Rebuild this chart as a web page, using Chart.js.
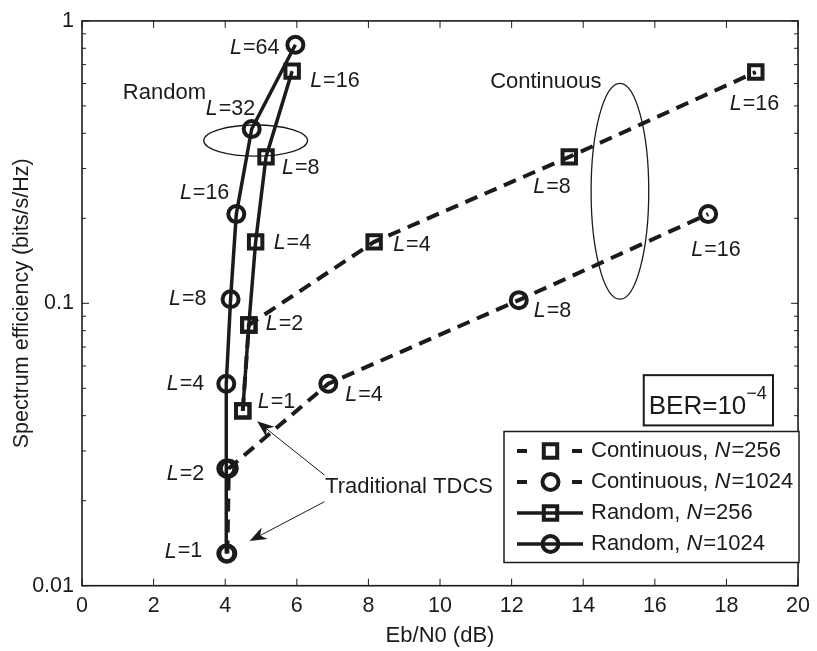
<!DOCTYPE html>
<html>
<head>
<meta charset="utf-8">
<script src="https://cdn.jsdelivr.net/npm/chart.js@4.4.0/dist/chart.umd.min.js"></script>
<style>
  html, body { margin: 0; padding: 0; background: #fff; }
  #wrap { width: 817px; height: 651px; }
</style>
</head>
<body>
<div id="wrap"><canvas id="chart" width="817" height="651"></canvas></div>
<script>
// data
const seriesNames = ["Continuous, N=256", "Continuous, N=1024", "Random, N=256", "Random, N=1024"];

const contN256X = [4.49, 4.66, 8.16, 13.61, 18.82];
const contN256Y = [0.0416, 0.0838, 0.165, 0.330, 0.659];
const contN256L = [1, 2, 4, 8, 16];

const contN1024X = [4.06, 4.1, 6.88, 12.2, 17.49];
const contN1024Y = [0.013, 0.026, 0.0519, 0.1026, 0.207];
const contN1024L = [1, 2, 4, 8, 16];

const randN256X = [4.49, 4.66, 4.85, 5.14, 5.87];
const randN256Y = [0.0416, 0.0838, 0.165, 0.33, 0.664];
const randN256L = [1, 2, 4, 8, 16];

const randN1024X = [4.03, 4.03, 4.03, 4.15, 4.31, 4.74, 5.96];
const randN1024Y = [0.013, 0.026, 0.0519, 0.1034, 0.207, 0.414, 0.823];
const randN1024L = [1, 2, 4, 8, 16, 32, 64];

const xTicks = [0, 2, 4, 6, 8, 10, 12, 14, 16, 18, 20];
const yTicks = [0.01, 0.1, 1];

// where each "L=" label sits next to its marker (pixels), null = not labelled
const labelPlace = [
  [null, null, ["left", 19, 3], ["left", -36, 30], ["left", -26, 32]],
  [null, null, ["left", 17, 11], ["left", 15, 11], ["left", -17, 36]],
  [["left", 15, -9], ["left", 17, -1], ["left", 18, 1], ["left", 16, 11], ["left", 18, 10]],
  [["right", -25, -2], ["right", -23, 6], ["right", -23, 0], ["right", -25, 0],
   ["right", -8, -21], ["left", -46, -20], ["right", -17, 3]],
];

// annotations in data coordinates
const notes = [
  { text: "Random", x: 1.14, y: 0.555 },
  { text: "Continuous", x: 11.4, y: 0.606 },
  { text: "Traditional TDCS", x: 6.79, y: 0.02245 },
];
const ellipses = [
  { x1: 3.4, x2: 6.3, y1: 0.428, y2: 0.332 },
  { x1: 14.22, x2: 15.83, y1: 0.601, y2: 0.1034 },
];
const arrows = [
  { x1: 6.77, y1: 0.02466, x2: 4.89, y2: 0.0382 },
  { x1: 6.77, y1: 0.01983, x2: 4.68, y2: 0.01439 },
];
const berBox = { x1: 15.69, x2: 19.3, y1: 0.05566, y2: 0.03695 };

// -----------------------------------------------------------------------------

const ink = "#1b1b1b";
const fam = "'Liberation Sans', Arial, Helvetica, sans-serif";

function pts(xs, ys) {
  return xs.map((x, i) => ({ x, y: ys[i] }));
}

const seriesX = [contN256X, contN1024X, randN256X, randN1024X];
const seriesY = [contN256Y, contN1024Y, randN256Y, randN1024Y];
const seriesL = [contN256L, contN1024L, randN256L, randN1024L];

const datasets = seriesNames.map((name, i) => {
  const dashed = i < 2;
  const square = i % 2 === 0;
  return {
    label: name,
    data: pts(seriesX[i], seriesY[i]),
    borderColor: ink,
    borderWidth: dashed ? 4 : 3.5,
    borderDash: dashed ? [13, 8] : [],
    pointStyle: square ? "rect" : "circle",
    pointRadius: square ? 9.5 : 8,
    pointBorderWidth: 4,
    pointBorderColor: ink,
    pointBackgroundColor: "rgba(0,0,0,0)",
    tension: 0,
  };
});

// "L=4" with italic L
function drawVar(ctx, letter, rest, x, y, align, size) {
  const it = `italic ${size}px ${fam}`;
  const nr = `${size}px ${fam}`;
  ctx.font = it;
  const w1 = ctx.measureText(letter).width;
  ctx.font = nr;
  const w2 = ctx.measureText(rest).width;
  let sx = align === "right" ? x - w1 - w2 : x;
  ctx.textAlign = "left";
  ctx.textBaseline = "middle";
  ctx.font = it;
  ctx.fillText(letter, sx, y);
  ctx.font = nr;
  ctx.fillText(rest, sx + w1 + 1, y);
}

function drawArrow(ctx, x1, y1, x2, y2) {
  const a = Math.atan2(y2 - y1, x2 - x1);
  const len = 17, hw = 6.5, notch = 12;
  const c = Math.cos(a), s = Math.sin(a);
  ctx.beginPath();
  ctx.moveTo(x1, y1);
  ctx.lineTo(x2 - c * notch, y2 - s * notch);
  ctx.lineWidth = 1;
  ctx.stroke();
  ctx.beginPath();
  ctx.moveTo(x2, y2);
  ctx.lineTo(x2 - c * len - s * hw, y2 - s * len + c * hw);
  ctx.lineTo(x2 - c * notch, y2 - s * notch);
  ctx.lineTo(x2 - c * len + s * hw, y2 - s * len - c * hw);
  ctx.closePath();
  ctx.fill();
}

function drawMarker(ctx, ds, x, y) {
  ctx.lineWidth = ds.pointBorderWidth;
  ctx.setLineDash([]);
  ctx.beginPath();
  if (ds.pointStyle === "rect") {
    const h = Math.SQRT1_2 * ds.pointRadius;
    ctx.rect(x - h, y - h, 2 * h, 2 * h);
  } else {
    ctx.arc(x, y, ds.pointRadius, 0, Math.PI * 2);
  }
  ctx.stroke();
}

const decorations = {
  id: "decorations",
  afterDraw(chart) {
    const { ctx, chartArea: a } = chart;
    const xs = chart.scales.x, ys = chart.scales.y;
    ctx.save();
    ctx.strokeStyle = ink;
    ctx.fillStyle = ink;

    // axes box + inward ticks
    ctx.lineWidth = 1.6;
    ctx.strokeRect(a.left, a.top, a.right - a.left, a.bottom - a.top);
    ctx.beginPath();
    xTicks.forEach((v) => {
      const px = xs.getPixelForValue(v);
      ctx.moveTo(px, a.bottom); ctx.lineTo(px, a.bottom - 7);
      ctx.moveTo(px, a.top); ctx.lineTo(px, a.top + 7);
    });
    yTicks.forEach((d, di) => {
      for (let k = 1; k <= 9; k++) {
        if (di === yTicks.length - 1 && k > 1) break;
        const py = ys.getPixelForValue(d * k);
        const len = k === 1 ? 7 : 4;
        ctx.moveTo(a.left, py); ctx.lineTo(a.left + len, py);
        ctx.moveTo(a.right, py); ctx.lineTo(a.right - len, py);
      }
    });
    ctx.lineWidth = 1;
    ctx.stroke();

    // L= labels
    chart.data.datasets.forEach((ds, i) => {
      const meta = chart.getDatasetMeta(i);
      meta.data.forEach((pt, j) => {
        const p = labelPlace[i][j];
        if (!p) return;
        drawVar(ctx, "L", "=" + seriesL[i][j], pt.x + p[1], pt.y + p[2], p[0], 21.5);
      });
    });

    // ellipses
    ctx.lineWidth = 1.3;
    ellipses.forEach((e) => {
      const l = xs.getPixelForValue(e.x1), r = xs.getPixelForValue(e.x2);
      const t = ys.getPixelForValue(e.y1), b = ys.getPixelForValue(e.y2);
      ctx.beginPath();
      ctx.ellipse((l + r) / 2, (t + b) / 2, (r - l) / 2, (b - t) / 2, 0, 0, Math.PI * 2);
      ctx.stroke();
    });

    // texts
    ctx.font = `22px ${fam}`;
    ctx.textAlign = "left";
    ctx.textBaseline = "middle";
    notes.forEach((n) => {
      ctx.fillText(n.text, xs.getPixelForValue(n.x), ys.getPixelForValue(n.y));
    });

    arrows.forEach((ar) => {
      drawArrow(ctx, xs.getPixelForValue(ar.x1), ys.getPixelForValue(ar.y1),
        xs.getPixelForValue(ar.x2), ys.getPixelForValue(ar.y2));
    });

    // BER box
    {
      const l = xs.getPixelForValue(berBox.x1), r = xs.getPixelForValue(berBox.x2);
      const t = ys.getPixelForValue(berBox.y1), b = ys.getPixelForValue(berBox.y2);
      ctx.fillStyle = "#fff";
      ctx.fillRect(l, t, r - l, b - t);
      ctx.fillStyle = ink;
      ctx.lineWidth = 2;
      ctx.strokeRect(l, t, r - l, b - t);
      ctx.font = `26px ${fam}`;
      ctx.textBaseline = "alphabetic";
      const base = "BER=10";
      ctx.fillText(base, l + 5, b - 11);
      const w = ctx.measureText(base).width;
      ctx.font = `18px ${fam}`;
      ctx.fillText("\u22124", l + 5 + w, b - 26);
    }

    // legend
    {
      const lx = 504, ly = 431.5, lw = 295, lh = 131;
      ctx.fillStyle = "#fff";
      ctx.fillRect(lx, ly, lw, lh);
      ctx.fillStyle = ink;
      ctx.lineWidth = 1.5;
      ctx.strokeRect(lx, ly, lw, lh);
      chart.data.datasets.forEach((ds, i) => {
        const y = ly + 19.5 + i * 31;
        const x1 = lx + 13, x2 = lx + 79, mx = lx + 46.5;
        ctx.beginPath();
        ctx.lineWidth = ds.borderWidth;
        ctx.setLineDash(ds.borderDash.length ? [10, 45] : []);
        ctx.moveTo(x1, y); ctx.lineTo(x2, y);
        ctx.stroke();
        drawMarker(ctx, ds, mx, y);
        const parts = ds.label.split("N=");
        ctx.font = `22px ${fam}`;
        ctx.textAlign = "left";
        ctx.textBaseline = "middle";
        const tx = lx + 87;
        ctx.fillText(parts[0], tx, y);
        const w0 = ctx.measureText(parts[0]).width;
        drawVar(ctx, "N", "=" + parts[1], tx + w0, y, "left", 22);
      });
    }
    ctx.restore();
  },
};

new Chart(document.getElementById("chart"), {
  type: "line",
  data: { datasets },
  options: {
    responsive: false,
    animation: false,
    devicePixelRatio: 1,
    layout: { padding: { top: 16, right: 14.3, left: 0, bottom: 0 } },
    plugins: {
      legend: { display: false },
      tooltip: { enabled: false },
    },
    scales: {
      x: {
        type: "linear",
        min: 0,
        max: 20,
        afterFit: (s) => { s.height = 65.3; },
        afterBuildTicks: (s) => { s.ticks = xTicks.map((v) => ({ value: v })); },
        grid: { display: false, drawTicks: false },
        border: { display: false },
        ticks: { color: ink, font: { family: fam, size: 21.5 }, padding: 7, maxRotation: 0 },
        title: {
          display: true,
          text: "Eb/N0 (dB)",
          color: ink,
          font: { family: fam, size: 22 },
          padding: { top: 0, bottom: 2 },
        },
      },
      y: {
        type: "logarithmic",
        min: 0.01,
        max: 1,
        afterFit: (s) => { s.width = 82; },
        afterBuildTicks: (s) => { s.ticks = yTicks.map((v) => ({ value: v })); },
        grid: { display: false, drawTicks: false },
        border: { display: false },
        ticks: {
          color: ink,
          font: { family: fam, size: 21.5 },
          padding: 8,
          callback: (v) => String(v),
        },
        title: {
          display: true,
          text: "Spectrum efficiency (bits/s/Hz)",
          color: ink,
          font: { family: fam, size: 21.5 },
          padding: { top: 9, bottom: 0 },
        },
      },
    },
  },
  plugins: [decorations],
});
</script>
</body>
</html>
